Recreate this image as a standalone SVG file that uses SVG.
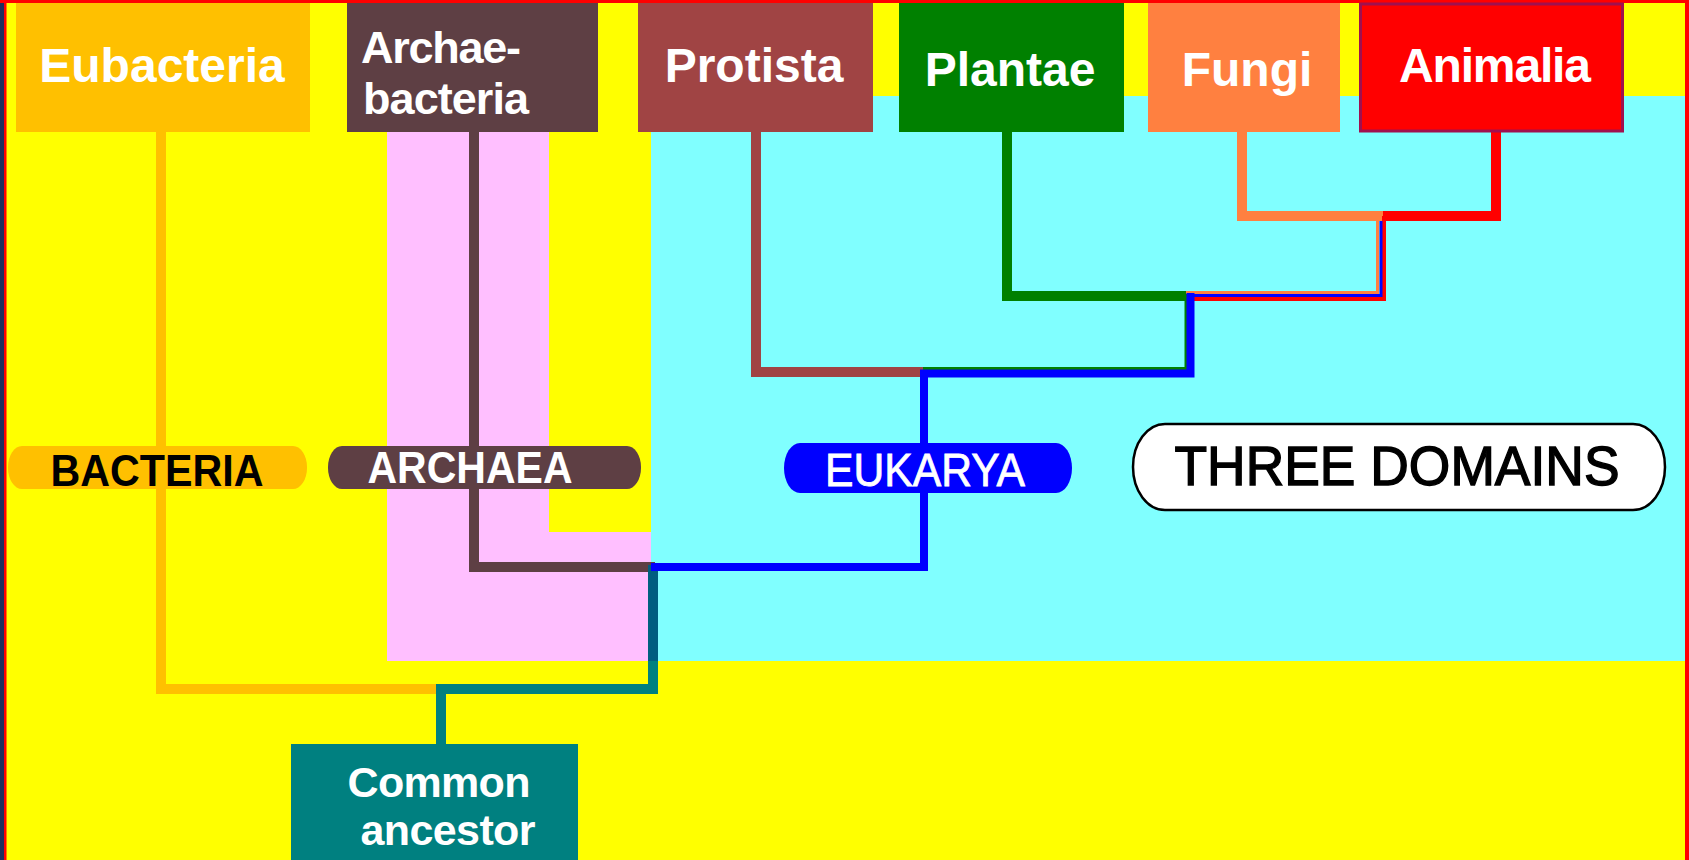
<svg xmlns="http://www.w3.org/2000/svg" width="1689" height="860" viewBox="0 0 1689 860">
<style>
.lbl{font-family:"Liberation Sans",Arial,sans-serif;font-weight:bold;fill:#fff}
.pill{font-family:"Liberation Sans",Arial,sans-serif}
.ln{fill:none;stroke-linejoin:miter;stroke-linecap:butt}
</style>
<!-- background -->
<rect x="0" y="0" width="1689" height="860" fill="#FFFF00"/>
<rect x="387" y="131" width="162" height="530" fill="#FFBFFF"/>
<rect x="387" y="532" width="264" height="129" fill="#FFBFFF"/>
<rect x="651" y="96" width="1034" height="565" fill="#80FFFF"/>
<rect x="0" y="0" width="4" height="860" fill="#1C2E5E"/>
<rect x="4" y="0" width="2.5" height="860" fill="#FF0000"/>
<rect x="0" y="0" width="1689" height="3" fill="#FF0000"/>
<rect x="1685" y="0" width="4" height="860" fill="#FF0000"/>

<g id="connectors" class="ln">
  <path d="M161,132 V689 H441" stroke="#FFC000" stroke-width="10"/>
  <path d="M474,132 V567 H655" stroke="#5E3F44" stroke-width="10"/>
  <path d="M441,744 V689 H653 V661" stroke="#008080" stroke-width="10"/>
  <path d="M653,661 V565" stroke="#005F80" stroke-width="10"/>
  <path d="M756,132 V372 H923" stroke="#A04444" stroke-width="10"/>
  <path d="M1007,132 V296 H1187" stroke="#008000" stroke-width="10"/>
  <path d="M1242,132 V216 H1383" stroke="#FF8040" stroke-width="10"/>
  <path d="M1496,132 V216 H1383" stroke="#FF0000" stroke-width="10"/>
  <path d="M1377.5,216 V292.5 H1186" stroke="#FF8040" stroke-width="3"/>
  <path d="M1384,216 V299 H1191" stroke="#FF0000" stroke-width="4"/>
  <path d="M1381,221 V295.5 H1190" stroke="#0000FF" stroke-width="3"/>
  <path d="M1186,296 V368.5 H923" stroke="#008000" stroke-width="3"/>
  <path d="M651,567 H924 V373.5 H1190.5 V293" stroke="#0000FF" stroke-width="8"/>
</g>

<g id="node-eubacteria">
  <rect x="16" y="3" width="294" height="129" fill="#FFC000"/>
  <text class="lbl" x="162" y="82" font-size="48" text-anchor="middle">Eubacteria</text>
</g>
<g id="node-archaebacteria">
  <rect x="347" y="3" width="251" height="129" fill="#5E3F44"/>
  <text class="lbl" x="361" y="63" font-size="45" textLength="160">Archae-</text>
  <text class="lbl" x="363" y="114" font-size="45" textLength="166">bacteria</text>
</g>
<g id="node-protista">
  <rect x="638" y="3" width="235" height="129" fill="#A04444"/>
  <text class="lbl" x="754" y="82" font-size="48" text-anchor="middle">Protista</text>
</g>
<g id="node-plantae">
  <rect x="899" y="3" width="225" height="129" fill="#008000"/>
  <text class="lbl" x="1010" y="86" font-size="48" text-anchor="middle">Plantae</text>
</g>
<g id="node-fungi">
  <rect x="1148" y="3" width="192" height="129" fill="#FF8040"/>
  <text class="lbl" x="1247" y="86" font-size="48" text-anchor="middle">Fungi</text>
</g>
<g id="node-animalia">
  <rect x="1360.5" y="4" width="262" height="127" fill="#FF0000" stroke="#A0104F" stroke-width="3"/>
  <text class="lbl" x="1495" y="82" font-size="48" text-anchor="middle" textLength="192">Animalia</text>
</g>
<g id="node-common-ancestor">
  <rect x="291" y="744" width="287" height="116" fill="#008080"/>
  <text class="lbl" x="439" y="797" font-size="43" text-anchor="middle" textLength="183">Common</text>
  <text class="lbl" x="448" y="845" font-size="43" text-anchor="middle" textLength="175">ancestor</text>
</g>

<g id="label-bacteria">
  <rect x="8" y="446" width="299" height="43" rx="14" ry="21" fill="#FFC000"/>
  <text class="pill" x="157" y="486" font-size="45" font-weight="bold" text-anchor="middle" textLength="213" lengthAdjust="spacingAndGlyphs" fill="#000">BACTERIA</text>
</g>
<g id="label-archaea">
  <rect x="328" y="446" width="313" height="43" rx="14" ry="21" fill="#5E3F44"/>
  <text class="pill" x="470" y="483" font-size="45" font-weight="bold" text-anchor="middle" textLength="205" lengthAdjust="spacingAndGlyphs" fill="#fff">ARCHAEA</text>
</g>
<g id="label-eukarya">
  <rect x="784" y="443" width="288" height="50" rx="16" ry="25" fill="#0000FF"/>
  <text class="pill" x="925" y="486" font-size="46" text-anchor="middle" textLength="200" lengthAdjust="spacingAndGlyphs" fill="#fff" stroke="#fff" stroke-width="0.8">EUKARYA</text>
</g>
<g id="label-three-domains">
  <rect x="1133" y="424" width="532" height="86" rx="32" ry="43" fill="#fff" stroke="#000" stroke-width="2.5"/>
  <text class="pill" x="1397" y="485" font-size="56" text-anchor="middle" textLength="445" lengthAdjust="spacingAndGlyphs" fill="#000" stroke="#000" stroke-width="1.4">THREE DOMAINS</text>
</g>
</svg>
